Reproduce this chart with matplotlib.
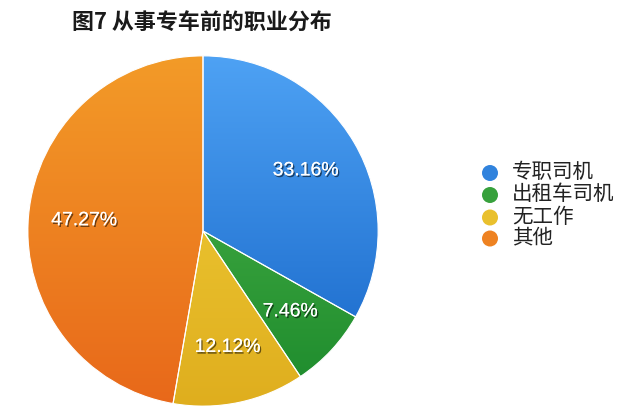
import numpy as np
import matplotlib
matplotlib.use("Agg")
import matplotlib.pyplot as plt
import matplotlib.patheffects as pe
from matplotlib.colors import to_rgb
from matplotlib.patches import Circle

plt.rcParams['font.family'] = ['Noto Sans CJK SC', 'DejaVu Sans']

# data
title = "图7 从事专车前的职业分布"
categories = ["专职司机", "出租车司机", "无工作", "其他"]
shares = [33.16, 7.46, 12.12, 47.27]
# (top colour, bottom colour) of each slice's vertical shading
top_colors = ["#4ea2f4", "#52b84c", "#f3d23c", "#f39b28"]
bottom_colors = ["#1463c6", "#1c8a2c", "#dfae1e", "#e8681a"]

W, H = 640, 415
DPI = 100
fig = plt.figure(figsize=(W / DPI, H / DPI), dpi=DPI)
fig.patch.set_facecolor("white")

cx, cy, r = 203, 231, 176
ax = fig.add_axes([(cx - r) / W, (H - cy - r) / H, 2 * r / W, 2 * r / H])

wedges, _, autotexts = ax.pie(
    shares, startangle=90, counterclock=False, radius=1,
    colors=top_colors, autopct="%.2f%%", pctdistance=0.68,
    wedgeprops=dict(linewidth=0.8, edgecolor="white"),
    textprops=dict(color="white", fontsize=14, family=["Liberation Sans"]),
)
ax.set_xlim(-1.005, 1.005)
ax.set_ylim(-1.005, 1.005)
ax.set_aspect("equal")
ax.axis("off")

# vertical gradient inside each slice
ny = 256
tvals = np.linspace(0, 1, ny)[:, None]
for w, c0, c1 in zip(wedges, top_colors, bottom_colors):
    a, b = np.array(to_rgb(c0)), np.array(to_rgb(c1))
    img = (a[None, None, :] * (1 - tvals[..., None]) + b[None, None, :] * tvals[..., None])
    img = np.repeat(img, 2, axis=1)
    im = ax.imshow(img, extent=(-1, 1, -1, 1), origin="upper",
                   interpolation="bilinear", zorder=w.get_zorder() + 0.1)
    im.set_clip_path(w)
    w.set_facecolor("none")
    w.set_zorder(w.get_zorder() + 0.2)

for t in autotexts:
    t.set_zorder(10)
    t.set_path_effects([pe.withSimplePatchShadow(offset=(1, -1.2), shadow_rgbFace="black", alpha=0.55),
                        pe.Normal()])

fig.text(202 / W, 1 - 23 / H, title, ha="center", va="center",
         fontsize=15.8, fontweight="bold", color="#1a1a1a")

# legend
leg_y = [172, 194, 216.5, 237.5]
for name, y, c0, c1 in zip(categories, leg_y, top_colors, bottom_colors):
    mix = tuple(0.5 * np.array(to_rgb(c0)) + 0.5 * np.array(to_rgb(c1)))
    circ = Circle((490 / DPI, (H - y - 1) / DPI), 8 / DPI,
                  transform=fig.dpi_scale_trans,
                  facecolor=mix, edgecolor="none")
    fig.patches.append(circ)
    fig.text(512 / W, 1 - y / H, name, ha="left", va="center",
             fontsize=14.8, color="#222222")

fig.savefig("out.png", dpi=DPI)
